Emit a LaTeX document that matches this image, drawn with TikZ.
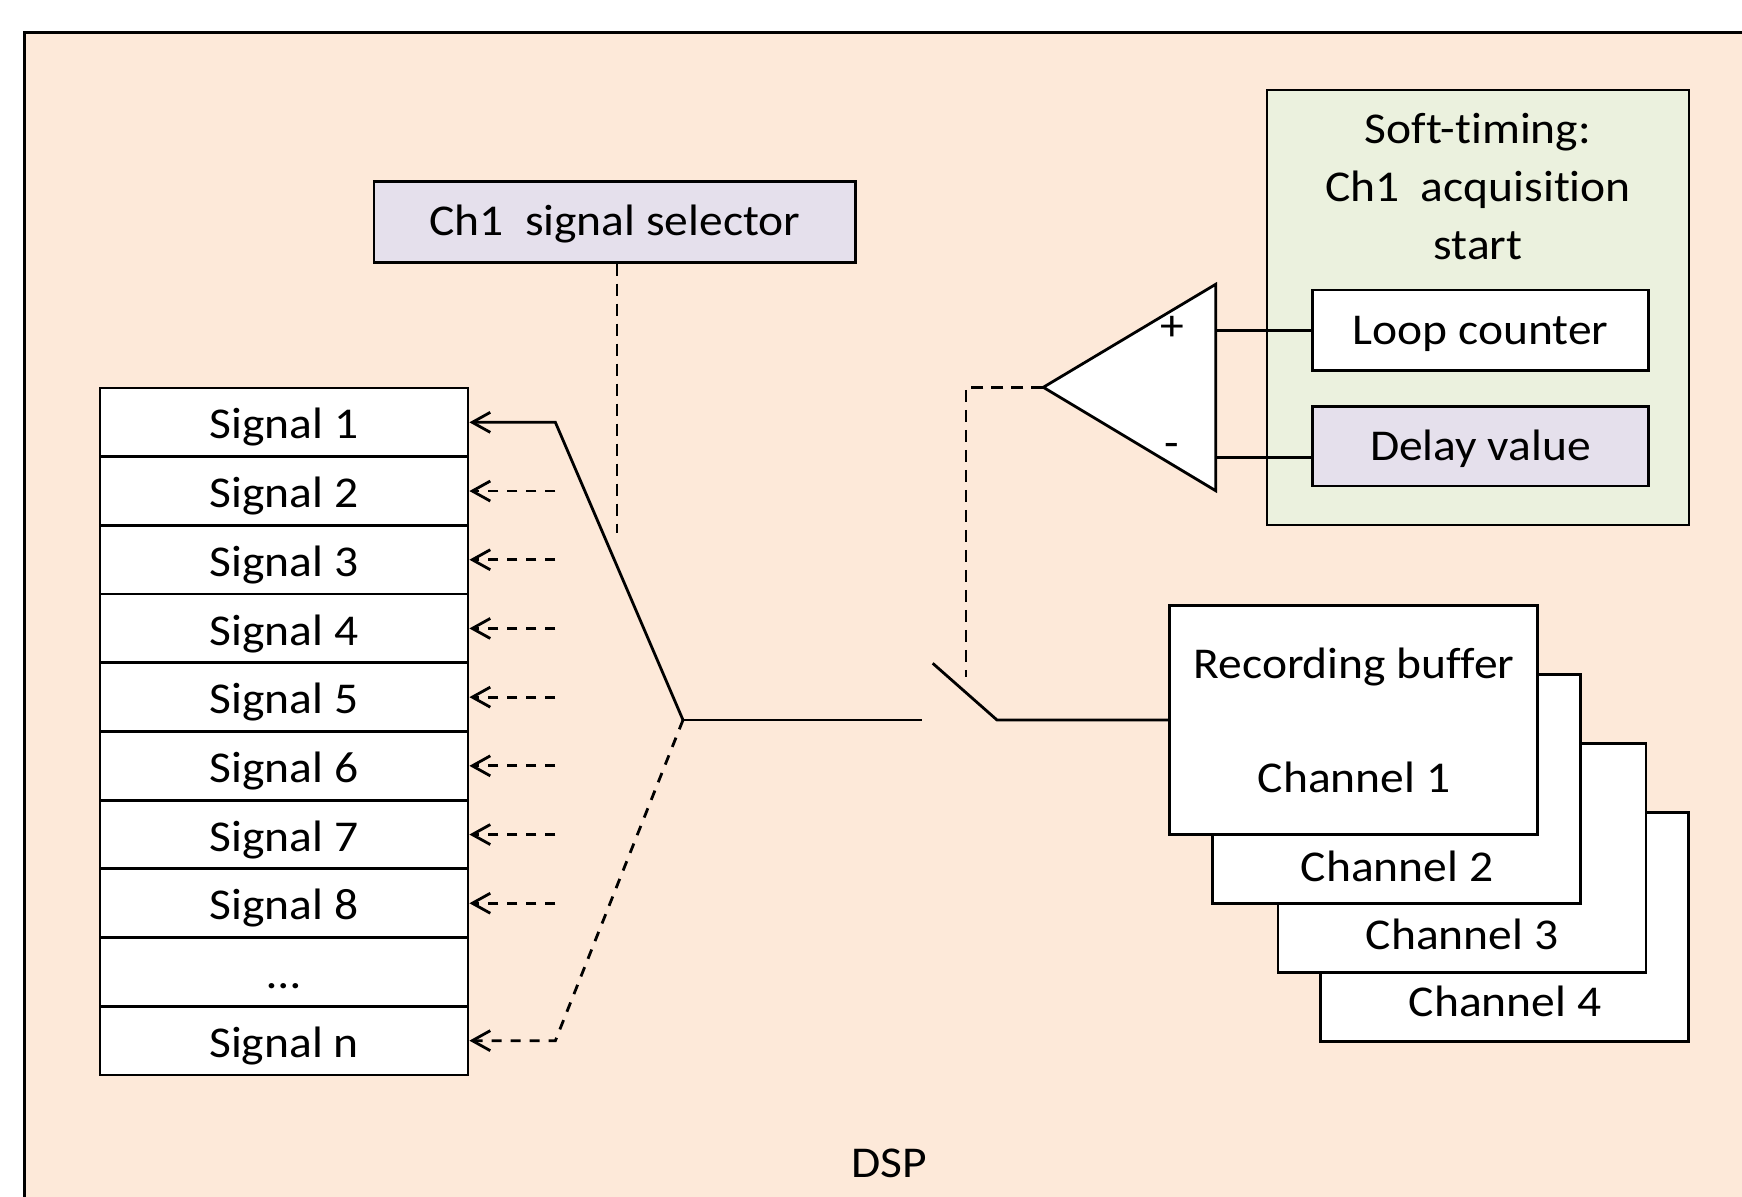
\documentclass[tikz,border=0pt]{standalone}
\usepackage{fontspec}
\setmainfont{Carlito}[FakeStretch=1.08,Ligatures=CommonOff]
\usetikzlibrary{arrows.meta}
\definecolor{peach}{HTML}{FDE9D9}
\definecolor{olivebg}{HTML}{EBF1DE}
\definecolor{lilac}{HTML}{E5E0EC}
\begin{document}
\begin{tikzpicture}[x=0.5pt,y=-0.5pt,
  font=\fontsize{22}{28.5}\selectfont,
  line width=1.4pt,
  every node/.style={text height=13.9pt, text depth=0pt},
  sig/.style={draw, fill=white, minimum width=184pt, minimum height=34.35pt, inner sep=0pt, text height=16.6pt},
  plainbox/.style={draw, inner sep=0pt},
  chbox/.style={draw, fill=white, minimum width=184pt, minimum height=114.5pt, inner sep=0pt},
  dsh/.style={dash pattern=on 6pt off 4pt},
  dshort/.style={dash pattern=on 5pt off 4.5pt},
  arr/.style={-{Straight Barb[length=9pt,width=10pt]}},
  txt/.style={inner sep=0pt}]
\clip (0,0) rectangle (1742,1197);
\fill[white] (0,0) rectangle (1742,1197);
% DSP outer area
\draw[fill=peach] (24.5,32.3) rectangle (1800,1260);
\node[txt] (dsp) at (889,1164) {DSP};

% signal table
\foreach \i/\t in {1/Signal 1,2/Signal 2,3/Signal 3,4/Signal 4,5/Signal 5,6/Signal 6,7/Signal 7,8/Signal 8,9/…,10/Signal n}{
  \node[sig] (s\i) at (284,{388+(\i-0.5)*68.7}) {\t};
  \path (s\i.east) ++(86,0) coordinate (b\i);
}

% selector
\node[plainbox, fill=lilac, minimum width=240.75pt, minimum height=40.3pt] (sel) at (614.75,222) {Ch1\ \ signal selector};
\coordinate (selEnd) at (617,533);
\draw[dsh] (sel.south -| selEnd) -- (selEnd);

% multiplexer lines
\coordinate (hub) at (683,720);
\draw[arr] (hub) -- (b1) -- (s1.east);
\foreach \i in {2,...,8}{
  \draw[arr,dshort] (b\i) -- (s\i.east);
}
\draw[arr,dshort] (hub) -- (b10) -- (s10.east);

% switch
\coordinate (swA) at (921.6,720);
\coordinate (swT) at (932.7,663.3);
\coordinate (swB) at (997,720);
\draw (hub) -- (swA);

% soft-timing block
\node[plainbox, fill=olivebg, minimum width=211pt, minimum height=217.5pt] (st) at (1478,307.5) {};
\node[txt] (sttitle1) at (1478,130) {Soft-timing:};
\node[txt] (sttitle2) at (1478,188) {Ch1\ \ acquisition};
\node[txt] (sttitle3) at (1478,246) {start};
\node[plainbox, fill=white, minimum width=167.8pt, minimum height=40.35pt] (lc) at (1480.5,330.35) {Loop counter};
\node[plainbox, fill=lilac, minimum width=167.8pt, minimum height=39.65pt] (dv) at (1480.5,446.35) {Delay value};

% comparator
\coordinate (tip) at (1043.3,387.3);
\coordinate (trT) at (1215.7,284.3);
\coordinate (trB) at (1215.7,490.7);
\draw[fill=white] (tip) -- (trT) -- (trB) -- cycle;
\node[txt] (plus) at (1172,327) {+};
\node[txt] (minus) at (1172,444) {-};
\draw (lc.west -| trT) -- (lc.west);
\coordinate (dl) at (1215.7,457.5);
\draw (dl) -- (dl -| dv.west);
\coordinate (dc) at (966,677);
\draw[dsh] (tip) -| (dc);

% recording buffers
\node[chbox] (rb4) at (1504.85,926.8) {};
\node[chbox] (rb3) at (1462,857.85) {};
\node[chbox] (rb2) at (1396.7,789) {};
\node[chbox] (rb1) at (1353.65,720) {};
\node[txt] (t4) at (1505,1003) {Channel 4};
\node[txt] (t3) at (1462,936) {Channel 3};
\node[txt] (t2) at (1397,867.5) {Channel 2};
\node[txt] (t1a) at (1354,664.5) {Recording buffer};
\node[txt] (t1b) at (1354,779) {Channel 1};

\draw (swT) -- (swB) -- (rb1.west);
\end{tikzpicture}
\end{document}
